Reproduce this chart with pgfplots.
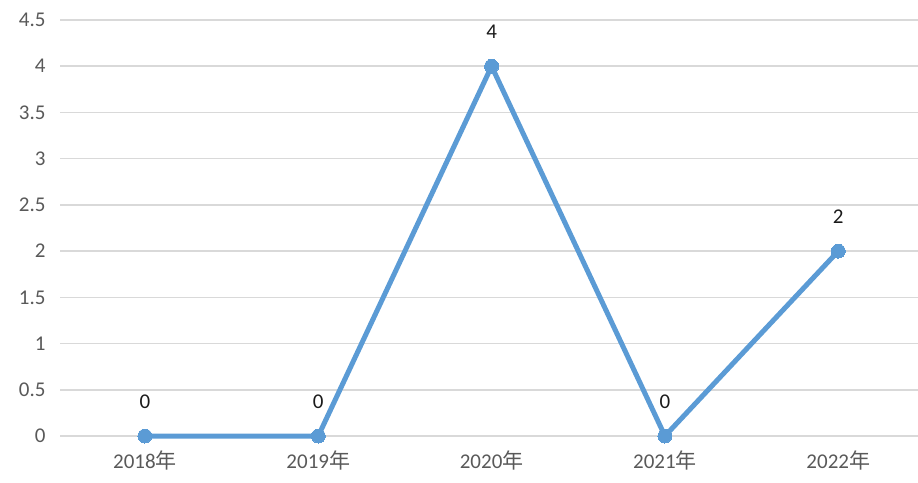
\documentclass[border=0pt]{standalone}
\usepackage{pgfplots}
\pgfplotsset{compat=1.18}
\usepackage{fontspec}
\setmainfont{Carlito}
\newfontfamily\cjk{Noto Sans CJK SC}
\definecolor{linecol}{HTML}{5B9BD5}
\definecolor{gridcol}{HTML}{D9D9D9}
\definecolor{ticktext}{HTML}{595959}
\definecolor{labtext}{HTML}{1A1A1A}

\begin{document}
\begin{tikzpicture}
\begin{axis}[
	scale only axis,
	width=858bp,
	height=416bp,
	xmin=-0.49, xmax=4.46,
	ymin=0, ymax=4.5,
	ytick={0,0.5,...,4.5},
	xtick={0,1,2,3,4},
	xticklabels={2018{\cjk 年},2019{\cjk 年},2020{\cjk 年},2021{\cjk 年},2022{\cjk 年}},
	axis line style={draw=none},
	ymajorgrids,
	grid style={gridcol, line width=1.5bp},
	major tick length=0pt,
	tick label style={font=\fontsize{21bp}{23bp}\selectfont, text=ticktext},
	/pgf/number format/assume math mode=true,
	yticklabel style={xshift=-11bp},
	xticklabel style={yshift=-11bp},
	clip=false,
]
\addplot[linecol, line width=5bp, mark=*, mark size=7bp,
	mark options={fill=linecol, draw=linecol, line width=0pt},
	nodes near coords,
	nodes near coords style={font=\fontsize{21bp}{23bp}\selectfont, text=labtext, anchor=south, yshift=24bp},
] coordinates {
	(0,0) (1,0) (2,4) (3,0) (4,2)
};
\end{axis}
\pgfresetboundingbox
\path ([shift={(-60bp,-47bp)}]current axis.south west) rectangle ([shift={(0bp,20bp)}]current axis.north east);
\end{tikzpicture}
\end{document}
